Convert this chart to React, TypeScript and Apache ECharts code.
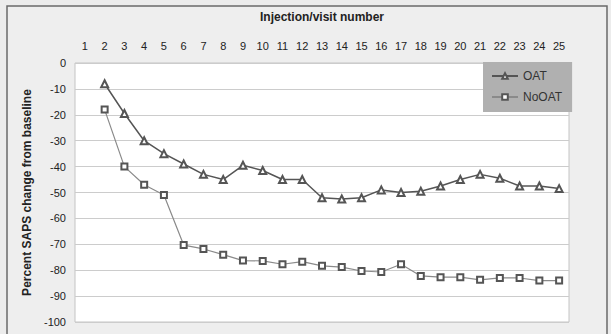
import React, { useEffect, useRef } from "react";
import * as echarts from "echarts";

const categories = ["1","2","3","4","5","6","7","8","9","10","11","12","13","14","15","16","17","18","19","20","21","22","23","24","25"];
const oat = [null, -8, -19.5, -30, -35, -39, -43, -45, -39.5, -41.5, -45, -45, -52, -52.5, -52, -49, -50, -49.5, -47.5, -45, -43, -44.5, -47.5, -47.5, -48.5];
const noOat = [null, -18, -40, -47, -51, -70.3, -71.8, -74, -76.3, -76.4, -77.7, -76.7, -78.3, -78.8, -80.3, -80.7, -77.7, -82.2, -82.7, -82.7, -83.7, -83, -83, -84, -84];

export default function App() {
  const ref = useRef<HTMLDivElement>(null);
  useEffect(() => {
    const chart = echarts.init(ref.current!, null, { renderer: "svg" });
    const font = "Liberation Sans, Arial, sans-serif";
    chart.setOption({
      animation: false,
      backgroundColor: "#ececec",
      textStyle: { fontFamily: font },
      graphic: [
        {
          type: "rect",
          shape: { x: 7, y: 6, width: 600, height: 340 },
          style: { fill: "#eeeeee", stroke: "#6a6a6a", lineWidth: 1.5 },
          z: -10,
        },
      ],
      grid: {
        left: 75, right: 42, top: 63, bottom: 12,
        show: true, backgroundColor: "#ffffff", borderColor: "#c4c4c4", borderWidth: 1,
      },
      legend: {
        orient: "vertical",
        left: 483,
        top: 62,
        width: 87,
        padding: [8, 10, 9, 8],
        itemGap: 9,
        backgroundColor: "#b0b0b0",
        itemWidth: 26,
        itemHeight: 7,
        textStyle: { fontSize: 12, color: "#333", fontFamily: font },
        data: ["OAT", "NoOAT"],
      },
      xAxis: {
        type: "category",
        position: "top",
        data: categories,
        boundaryGap: true,
        axisTick: { show: false },
        axisLine: { show: false },
        axisLabel: { fontSize: 11, color: "#222", margin: 12, interval: 0 },
        name: "Injection/visit number",
        nameLocation: "middle",
        nameGap: 40,
        nameTextStyle: { fontSize: 12, fontWeight: "bold", color: "#222" },
      },
      yAxis: {
        type: "value",
        min: -100,
        max: 0,
        interval: 10,
        axisTick: { show: false },
        axisLine: { show: false },
        axisLabel: { fontSize: 11, color: "#222", margin: 9 },
        splitLine: { lineStyle: { color: "#cccccc", width: 1 } },
        name: "Percent SAPS change from baseline",
        nameLocation: "middle",
        nameGap: 40,
        nameRotate: 90,
        nameTextStyle: { fontSize: 12, fontWeight: "bold", color: "#222" },
      },
      series: [
        {
          name: "OAT",
          type: "line",
          data: oat,
          symbol: "emptyTriangle",
          symbolSize: 7,
          lineStyle: { color: "#555555", width: 1.5 },
          itemStyle: { color: "#555555", borderWidth: 1.2 },
        },
        {
          name: "NoOAT",
          type: "line",
          data: noOat,
          symbol: "emptyRect",
          symbolSize: 6,
          lineStyle: { color: "#8a8a8a", width: 1.2 },
          itemStyle: { color: "#555555", borderWidth: 1.2 },
        },
      ],
    });
    return () => chart.dispose();
  }, []);
  return <div ref={ref} style={{ position: "fixed", left: 0, top: 0, width: 611, height: 334 }} />;
}
